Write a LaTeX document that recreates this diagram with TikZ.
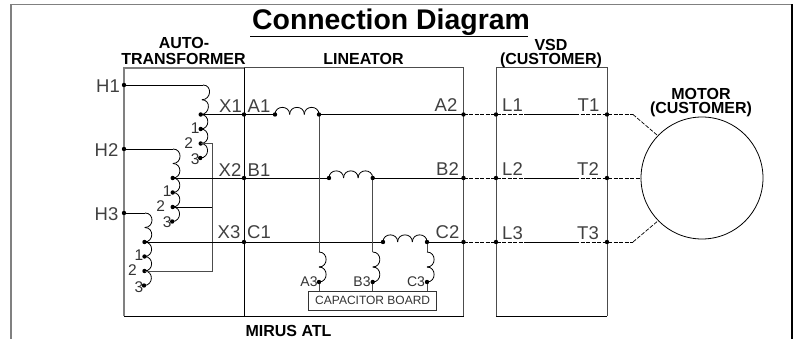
\documentclass[tikz,border=0pt]{standalone}
\usepackage{fontspec}
\setmainfont{Liberation Sans}
\usetikzlibrary{calc}
\newcommand{\figuresize}{1pt}
\newcommand{\makecoil}[4]{
	\foreach \i [evaluate=\i as \s using (\i-1)/#3, evaluate=\i as \t using \i/#3] in {1,...,#3}
		\draw[wire] ($(#1)!\s!(#2)$) .. controls ($(#1)!\s!(#2)+(#4)$) and ($(#1)!\t!(#2)+(#4)$) .. ($(#1)!\t!(#2)$);
}
\newcommand{\maketap}[4]{
	\coordinate (#1k) at ($(#1)+(0,14.5)$);
	\coordinate (#1m) at ($(#1)+(0,29)$);
	\coordinate (#1e) at ($(#1)+(-0.5,43.5)$);
	\makecoil{#1}{#1k}{1}{9.5,0}
	\makecoil{#1k}{#1m}{1}{9.5,0}
	\makecoil{#1m}{#1e}{1}{9.5,0}
	\node[tapnum] (#1one) at ($(#1)+(#2,19)$) {1};
	\node[tapnum] (#1two) at ($(#1)+(#3,34)$) {2};
	\node[tapnum] (#1three) at ($(#1)+(#4,50)$) {3};
	\foreach \p in {#1,#1k,#1m,#1e} \fill (\p) circle (2.2);
}
\tikzset{
	wire/.style={black, line width=0.8pt},
	boxline/.style={black!70, line width=1pt},
	heavy/.style={black!50, line width=1.5pt},
	feed/.style={black, line width=0.7pt, dash pattern=on 4pt off 1.5pt},
	term/.style={anchor=base, inner sep=0pt, font=\fontsize{18.5}{18.5}\selectfont, black!75},
	tapnum/.style={anchor=base, inner sep=0pt, font=\fontsize{15.5}{15.5}\selectfont, black!80},
	capnum/.style={anchor=base, inner sep=0pt, font=\fontsize{14}{14}\selectfont, black!80},
	head/.style={anchor=base, inner sep=0pt, font=\fontsize{16}{16}\selectfont\bfseries},
}

\begin{document}
\begin{tikzpicture}[x=\figuresize,y=-\figuresize]
	\useasboundingbox (0,0) rectangle (798,339);

	\coordinate (NW) at (11,4.5);
	\coordinate (NE) at (792,4.5);
	\coordinate (SW) at (11,339);
	\coordinate (SE) at (792,339);
	\draw[heavy] (SW) -- (NW) -- (NE);
	\draw[black, line width=1.3pt] (NE) -- (SE);

	% terminals
	\coordinate (H1) at (124,85);
	\coordinate (H2) at (124,149);
	\coordinate (H3) at (124,213);
	\coordinate (X1) at (244,114.5);
	\coordinate (X2) at (244,178);
	\coordinate (X3) at (244,242);
	\coordinate (A2) at (463.5,114.5);
	\coordinate (B2) at (463.5,178);
	\coordinate (C2) at (463.5,242);
	\coordinate (L1) at (496,114.5);
	\coordinate (L2) at (496,178);
	\coordinate (L3) at (496,242);
	\coordinate (T1) at (607,114.5);
	\coordinate (T2) at (607,178);
	\coordinate (T3) at (607,242);

	% boxes
	\draw[heavy] (124,316) -- (124,68) -- (244,68);
	\draw[wire] (124,316) -- (244,316);
	\draw[boxline] (244,68) -- (463.5,68) -- (463.5,316);
	\draw[black, line width=1pt] (244,68) -- (244,316) -- (463.5,316);
	\draw[boxline] (496,316) -- (496,68) -- (607,68) -- (607,316);
	\draw[wire] (496,316) -- (607,316);
	\draw[wire] (702,178) circle (61);

	% auto-transformer windings
	\coordinate (Ha) at (203,85);
	\coordinate (Hb) at (173,149);
	\coordinate (Hc) at (145,213);
	\coordinate (Ta) at (200.7,114.5);
	\coordinate (Tb) at (172.7,178);
	\coordinate (Tc) at (144.5,242);
	\draw[wire] (H1) -- (Ha);
	\draw[wire] (H2) -- (Hb);
	\draw[wire] (H3) -- (Hc);
	\makecoil{Ha}{Ta}{2}{9.5,0}
	\makecoil{Hb}{Tb}{2}{9.5,0}
	\makecoil{Hc}{Tc}{2}{9.5,0}
	\maketap{Ta}{-5.5}{-12}{-5.5}
	\maketap{Tb}{-5.5}{-12}{-5.5}
	\maketap{Tc}{-5.5}{-12}{-5.5}

	\coordinate (Ja) at (212,143.5);
	\coordinate (Jb) at (212,207);
	\coordinate (Jc) at (212,271);
	\draw[boxline] (Tam) -- (Ja) -- (Jc) -- (Tcm);
	\draw[wire] (Tbm) -- (Jb);

	% lineator
	\coordinate (A1) at (275,114.5);
	\coordinate (B1) at (329,178);
	\coordinate (C1) at (383,242);
	\coordinate (Ao) at (319,114.5);
	\coordinate (Bo) at (372.7,178);
	\coordinate (Co) at (427,242);
	\draw[wire] (Ta) -- (A1);
	\draw[wire] (Tb) -- (B1);
	\draw[wire] (Tc) -- (C1);
	\draw[wire] (Ao) -- (A2);
	\draw[wire] (Bo) -- (B2);
	\draw[wire] (Co) -- (C2);
	\makecoil{A1}{Ao}{3}{0,-9.5}
	\makecoil{B1}{Bo}{3}{0,-9.5}
	\makecoil{C1}{Co}{3}{0,-9.5}

	\coordinate (Au) at (319,252);
	\coordinate (Bu) at (372.7,252);
	\coordinate (Cu) at (427,252);
	\coordinate (A3) at (319,282);
	\coordinate (B3) at (372.7,282);
	\coordinate (C3) at (427,282);
	\coordinate (Ac) at (319,291.5);
	\coordinate (Bc) at (372.7,291.5);
	\coordinate (Cc) at (427,291.5);
	\draw[boxline] (Ao) -- (Au);
	\draw[boxline] (Bo) -- (Bu);
	\draw[boxline] (Co) -- (Cu);
	\makecoil{Au}{A3}{2}{9.5,0}
	\makecoil{Bu}{B3}{2}{9.5,0}
	\makecoil{Cu}{C3}{2}{9.5,0}
	\draw[boxline] (A3) -- (Ac);
	\draw[boxline] (B3) -- (Bc);
	\draw[boxline] (C3) -- (Cc);

	\node[draw=black!75, line width=0.9pt, minimum width=128pt, minimum height=18.7pt, inner sep=0pt, font=\fontsize{12}{12}\selectfont, black!80] (capboard) at (372.7,300.7) {CAPACITOR BOARD};

	% feeders
	\coordinate (La) at (528,114.5);
	\coordinate (Lb) at (528,178);
	\coordinate (Lc) at (528,242);
	\coordinate (Ra) at (575,114.5);
	\coordinate (Rb) at (575,178);
	\coordinate (Rc) at (575,242);
	\coordinate (Ma) at (633,114.5);
	\coordinate (Mc) at (633,242);
	\coordinate (Mta) at (657,135);
	\coordinate (Mtb) at (641,178);
	\coordinate (Mtc) at (657,221.7);
	\foreach \r/\l/\m/\n/\o/\q in {A2/L1/La/Ra/T1/Ma, B2/L2/Lb/Rb/T2/Mtb, C2/L3/Lc/Rc/T3/Mc}{
		\draw[feed] (\r) -- (\l) -- (\m);
		\draw[wire] (\m) -- (\n);
		\draw[feed] (\n) -- (\o) -- (\q);
	}
	\draw[feed] (Ma) -- (Mta);
	\draw[feed] (Mc) -- (Mtc);

	\foreach \p in {H1,H2,H3,X1,X2,X3,A1,B1,C1,Ao,Bo,Co,A2,B2,C2,L1,L2,L3,T1,T2,T3,A3,B3,C3}
		\fill (\p) circle (2.2);

	% labels
	\node[anchor=base, inner sep=0pt, font=\fontsize{28.4}{28.4}\selectfont\bfseries] (title) at (391,30) {Connection Diagram};
	\coordinate (ula) at (250,36.7);
	\coordinate (ulb) at (528,36.7);
	\draw[wire] (ula) -- (ulb);
	\node[head] (autolbl) at (184,49) {AUTO-};
	\node[head] (translbl) at (183.5,65) {TRANSFORMER};
	\node[head] (linlbl) at (363.5,65) {LINEATOR};
	\node[head] (vsdlbl) at (551,51) {VSD};
	\node[head] (vsdcust) at (551,65) {(CUSTOMER)};
	\node[head] (motorlbl) at (701,100) {MOTOR};
	\node[head] (motorcust) at (701,114) {(CUSTOMER)};
	\node[head] (mirus) at (288.5,336) {MIRUS ATL};

	\foreach \n/\t/\x/\y in {a/H1/108/93, b/H2/106.5/157, c/H3/106.5/221, d/X1/230.5/113, e/A1/259/113, f/X2/230/177, g/B1/259/177, h/X3/229/239, i/C1/259/239, j/A2/446/112, k/B2/447.5/176, l/C2/447.5/239, m/L1/512.5/112, n/T1/588.5/112, o/L2/512.5/176, p/T2/588/176, q/L3/512.5/240, r/T3/588/240}
		\node[term] (lbl\n) at (\x,\y) {\t};
	\foreach \n/\t/\x in {a/A3/309, b/B3/362, c/C3/416}
		\node[capnum] (cap\n) at (\x,287) {\t};
\end{tikzpicture}
\end{document}
